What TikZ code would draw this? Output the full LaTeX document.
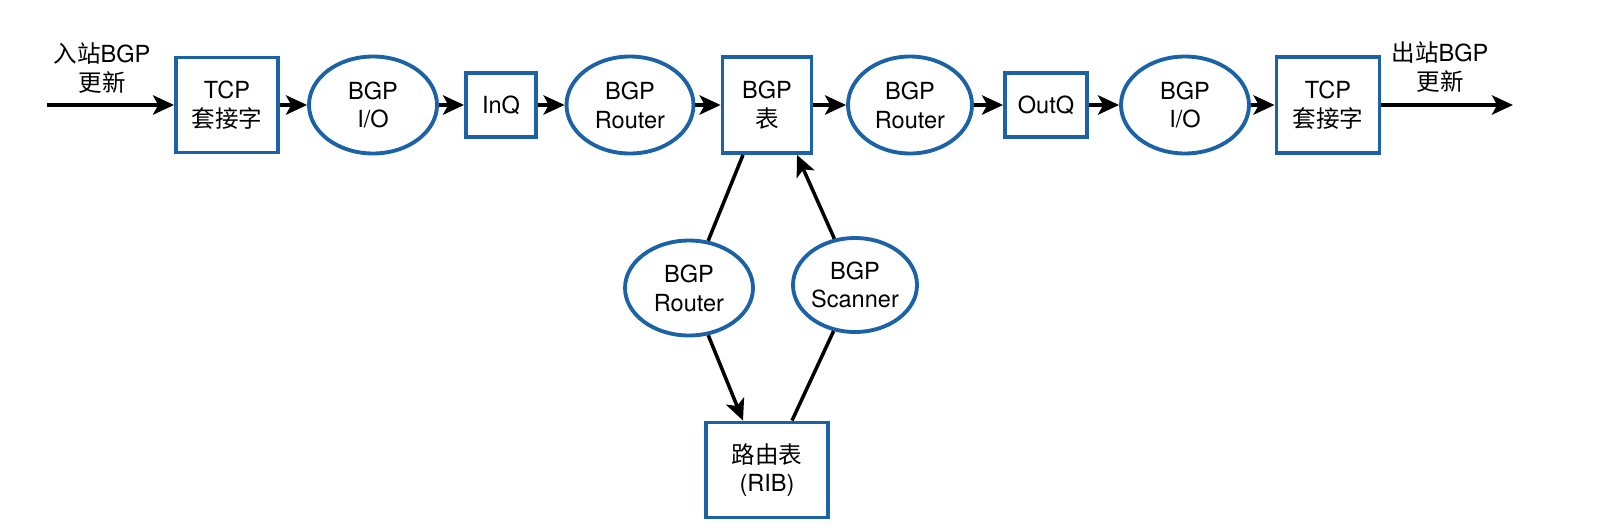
\documentclass[tikz,border=0pt]{standalone}
\usepackage{fontspec}
\setmainfont{TeX Gyre Heros}
\newfontfamily\cjk{Noto Sans CJK SC}
\usepackage[RGB]{xcolor}
\usetikzlibrary{shapes.geometric,arrows.meta,calc}
\definecolor{boxblue}{RGB}{28,98,166}
\newcommand{\drawarrow}{\draw[line width=2pt,-{Stealth[length=12pt,width=11pt,inset=3pt]}]}
\newcommand{\drawline}{\draw[line width=2pt]}
\tikzset{
  stagebox/.style={draw=boxblue,line width=2.2pt,rectangle,inner sep=0pt,align=center},
  stageoval/.style={draw=boxblue,line width=2.2pt,ellipse,inner sep=0pt,align=center,
    minimum width=2.56cm,minimum height=1.94cm},
  updlabel/.style={align=center,inner sep=0pt}
}

\begin{document}
\begin{tikzpicture}[x=0.02cm,y=-0.02cm,font=\fontsize{13.4}{16.4}\selectfont]
\useasboundingbox (0,0) rectangle (1610,528);
% main row
\node[stagebox,minimum width=2.04cm,minimum height=1.9cm] (tcpin) at (227,105) {TCP\\{\cjk 套接字}};
\node[stageoval] (ioin) at (373,105) {BGP\\I/O};
\node[stagebox,minimum width=1.4cm,minimum height=1.28cm] (inq) at (501,105) {InQ};
\node[stageoval,minimum width=2.54cm] (rtin) at (630,105) {BGP\\Router};
\node[stagebox,minimum width=1.78cm,minimum height=1.92cm] (bgptbl) at (767,105) {BGP\\{\cjk 表}};
\node[stageoval,minimum width=2.48cm] (rtout) at (910,105) {BGP\\Router};
\node[stagebox,minimum width=1.64cm,minimum height=1.28cm] (outq) at (1046,105) {OutQ};
\node[stageoval] (ioout) at (1185,105) {BGP\\I/O};
\node[stagebox,minimum width=2.06cm,minimum height=1.92cm] (tcpout) at (1328,105) {TCP\\{\cjk 套接字}};
\coordinate (src) at (47,105);
\coordinate (dst) at (1513,105);
\node[updlabel] (inlbl) at (102,68) {{\cjk 入站}BGP\\{\cjk 更新}};
\node[updlabel] (outlbl) at (1440,67) {{\cjk 出站}BGP\\{\cjk 更新}};
% lower loop
\node[stageoval,minimum width=2.56cm,minimum height=1.9cm] (rtrib) at (689,288) {BGP\\Router};
\node[stageoval,minimum width=2.48cm,minimum height=1.88cm] (scan) at (855,285) {BGP\\Scanner};
\node[stagebox,minimum width=2.44cm,minimum height=1.9cm] (rib) at (767,470) {{\cjk 路由表}\\(RIB)};
\drawarrow (src) -- (tcpin);
\drawarrow (tcpin) -- (ioin);
\drawarrow (ioin) -- (inq);
\drawarrow (inq) -- (rtin);
\drawarrow (rtin) -- (bgptbl);
\drawarrow (bgptbl) -- (rtout);
\drawarrow (rtout) -- (outq);
\drawarrow (outq) -- (ioout);
\drawarrow (ioout) -- (tcpout);
\drawarrow (tcpout) -- (dst);
\drawline ($(bgptbl.south)+(-24,0)$) -- (rtrib);
\drawarrow (rtrib) -- ($(rib.north)+(-24,0)$);
\drawline ($(rib.north)+(25,0)$) -- (scan);
\drawarrow (scan) -- ($(bgptbl.south)+(30,0)$);
\end{tikzpicture}
\end{document}
